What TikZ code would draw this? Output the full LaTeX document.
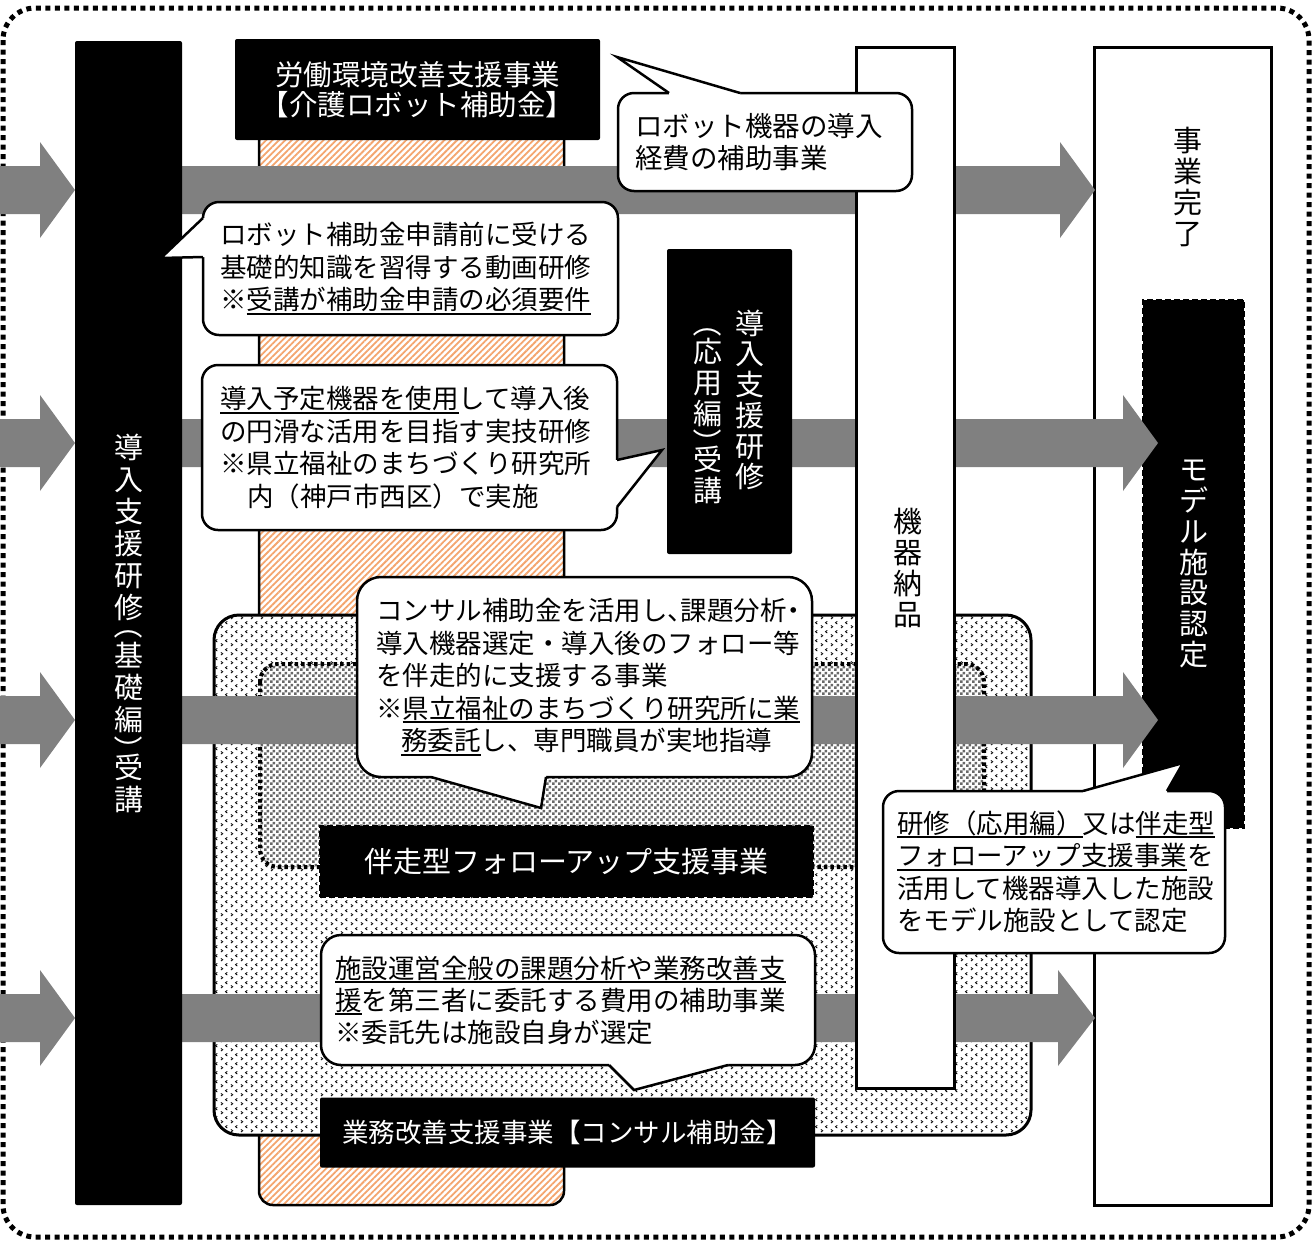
\documentclass[tikz,border=0pt]{standalone}
\usepackage{fontspec}
\usepackage{graphicx}
\setmainfont{Noto Sans CJK JP}
\usetikzlibrary{patterns,patterns.meta}
\definecolor{arrowgray}{RGB}{128,128,128}
\definecolor{hatchorange}{RGB}{244,165,110}
\definecolor{chkgray}{RGB}{105,105,105}
\newsavebox\ulxbox
\newcommand\ulx[1]{\leavevmode\sbox\ulxbox{#1}\rlap{\rule[-5pt]{\wd\ulxbox}{2pt}}\usebox\ulxbox}
\newcommand\hw[1]{{\addfontfeature{RawFeature=+halt}#1}}
\newcommand\vpo{\rotatebox[origin=c]{-90}{（}}
\newcommand\vpc{\rotatebox[origin=c]{-90}{）}}
\newcommand\bigarrow[4]{\fill[arrowgray] (#1,#4-24) -- (#2,#4-24) -- (#2,#4-48) -- (#3,#4) -- (#2,#4+48) -- (#2,#4+24) -- (#1,#4+24) -- cycle;}
\tikzdeclarepattern{
  name=chevdots,
  type=uncolored,
  bounding box={(0pt,0pt) and (10pt,9pt)},
  tile size={(10pt,9pt)},
  code={
    \draw[line width=0.85pt] (1pt,1pt) -- (3pt,2.5pt) -- (1pt,4pt);
    \draw[line width=0.85pt] (8pt,5.5pt) -- (6pt,7pt) -- (8pt,8.5pt);
  }
}
\tikzdeclarepattern{
  name=graychk,
  type=uncolored,
  bounding box={(0pt,0pt) and (6pt,6pt)},
  tile size={(6pt,6pt)},
  code={
    \fill (0pt,0pt) rectangle (3pt,3pt);
    \fill (3pt,3pt) rectangle (6pt,6pt);
  }
}
\tikzset{
  outerframe/.style={line width=5pt, dash pattern=on 5pt off 4.5pt, rounded corners=32pt},
  blk/.style={fill=black, text=white, inner sep=0pt, rounded corners=2pt},
  wbar/.style={draw=black, line width=3pt, fill=white, inner sep=0pt},
  vtxt/.style={align=center, font=\fontsize{29}{30.75}\selectfont, inner sep=0pt},
  cbox/.style={draw=black, line width=2.5pt, fill=white, rounded corners=16pt, inner ysep=0pt, align=left, font=\fontsize{26.5}{32.5}\selectfont},
  tailline/.style={line width=2.5pt, line join=miter},
}
\begin{document}
\begin{tikzpicture}[x=1pt,y=-1pt]
\useasboundingbox (0,0) rectangle (1313,1240);
% outer frame
\draw[outerframe] (3,8) rectangle (1309,1237);
% completion column
\node[wbar, minimum width=177, minimum height=1158] (done) at (1182.5,626) {};
\node[vtxt] (donetxt) at (1188,187) {事\\業\\完\\了};
% model facility box
\node[blk, rounded corners=0pt, draw=black, line width=2pt, dash pattern=on 6pt off 3pt, minimum width=101, minimum height=528, align=center, font=\fontsize{29}{30.75}\selectfont] (model) at (1193.5,564) {モ\\デ\\ル\\施\\設\\認\\定};
% orange hatched column
\fill[white, rounded corners=14pt] (259,100) rectangle (564,1205);
\fill[rounded corners=14pt, pattern={Lines[angle=45,distance=4.5pt,line width=1.8pt]}, pattern color=hatchorange] (259,100) rectangle (564,1205);
\draw[line width=2.5pt, rounded corners=14pt] (259,100) rectangle (564,1205);
% consultant pattern box
\fill[white, rounded corners=25pt] (214,615) rectangle (1031,1135);
\fill[pattern=chevdots, pattern color=black, rounded corners=25pt] (214,615) rectangle (1031,1135);
\draw[line width=3pt, rounded corners=25pt] (214,615) rectangle (1031,1135);
% follow-up inner box
\fill[white, rounded corners=18pt] (260,664) rectangle (984,867);
\fill[pattern=graychk, pattern color=chkgray, rounded corners=18pt] (260,664) rectangle (984,867);
\draw[line width=4pt, dash pattern=on 3.5pt off 3pt, rounded corners=18pt] (260,664) rectangle (984,867);
% gray block arrows
\bigarrow{0}{40}{75}{190}
\bigarrow{181}{1060}{1095}{190}
\bigarrow{0}{40}{75}{443}
\bigarrow{181}{1123}{1158}{443}
\bigarrow{0}{40}{75}{720}
\bigarrow{181}{1123}{1158}{720}
\bigarrow{0}{40}{75}{1018}
\bigarrow{181}{1058}{1095}{1018}
% left black bar
\node[blk, minimum width=107, minimum height=1164, align=center, font=\fontsize{29}{32}\selectfont] (lbar) at (128.5,623) {導\\入\\支\\援\\研\\修\\[-14.4pt]\vpo\\[-1.6pt]基\\礎\\編\\[-1.3pt]\vpc\\[-14.7pt]受\\講};
% delivery column
\node[wbar, minimum width=98, minimum height=1041] (kiki) at (905,567.5) {};
\node[vtxt] (kikitxt) at (908,568) {機\\器\\納\\品};
% black title boxes
\node[blk, minimum width=365, minimum height=101, align=center, font=\fontsize{28.5}{30}\selectfont] (title) at (417.5,89.5) {労働環境改善支援事業\\【介護ロボット補助金】};
\node[blk, minimum width=125, minimum height=305] (oyo) at (729.5,401.5) {};
\node[vtxt, text=white] (oyoR) at (750,400) {導\\入\\支\\援\\研\\修};
\node[vtxt, text=white] (oyoL) at (708,406) {\vpo\\[-2pt]応\\用\\編\\[-1.5pt]\vpc\\[-14pt]受\\講};
\node[blk, rounded corners=0pt, draw=black, line width=2pt, dash pattern=on 6pt off 3pt, minimum width=493, minimum height=71, font=\fontsize{29}{30}\selectfont] (banso) at (566.5,861.5) {伴走型フォローアップ支援事業};
\node[blk, minimum width=495, minimum height=70, font=\fontsize{26.5}{30}\selectfont] (gyomu) at (567.5,1132.5) {業務改善支援事業【コンサル補助金】};
% callouts
\node[cbox, minimum width=294, minimum height=98, text width=260, inner xsep=17pt, font=\fontsize{27.5}{32}\selectfont] (c0) at (765,142) {ロボット機器の導入\\経費の補助事業};
\fill[white] (669,97) -- (669,93) -- (617,57) -- (740,93) -- (740,97) -- cycle;
\draw[tailline] (669,93) -- (617,57) -- (740,93);
\node[cbox, minimum width=415, minimum height=133, text width=381, inner xsep=17pt] (c1) at (410.5,268.5) {ロボット補助金申請前に受ける\\基礎的知識を習得する動画研修\\※\ulx{受講が補助金申請の必須要件}};
\fill[white] (207,218) -- (203,218) -- (161,258) -- (203,257) -- (207,257) -- cycle;
\draw[tailline] (203,218) -- (161,258) -- (203,257);
\node[cbox, minimum width=415, minimum height=165, text width=379, inner xsep=18pt] (c2) at (409.5,447.5) {\ulx{導入予定機器を使用}して導入後\\の円滑な活用を目指す実技研修\\※県立福祉のまちづくり研究所\\\hspace*{27pt}内（神戸市西区）で実施};
\fill[white] (613,460) -- (617,460) -- (662,450) -- (617,507) -- (613,507) -- cycle;
\draw[tailline] (617,460) -- (662,450) -- (617,507);
\node[cbox, rounded corners=24pt, minimum width=455, minimum height=200, text width=417, inner xsep=19pt] (c3) at (584.5,677) {コンサル補助金を活用し\hw{、}課題分析\hw{・}\\導入機器選定・導入後のフォロー等\\を伴走的に支援する事業\\※\ulx{県立福祉のまちづくり研究所に業}\\\hspace*{25pt}\ulx{務委託}し、専門職員が実地指導};
\fill[white] (431,773) -- (431,777) -- (541,808) -- (546,777) -- (546,773) -- cycle;
\draw[tailline] (431,777) -- (541,808) -- (546,777);
\node[cbox, rounded corners=20pt, minimum width=494, minimum height=130, text width=466, inner xsep=14pt, font=\fontsize{26.5}{32}\selectfont] (c4) at (568,1000) {\ulx{施設運営全般の課題分析や業務改善支}\\\ulx{援}を第三者に委託する費用の補助事業\\※委託先は施設自身が選定};
\fill[white] (609,1061) -- (609,1065) -- (634,1090) -- (728,1065) -- (728,1061) -- cycle;
\draw[tailline] (609,1065) -- (634,1090) -- (728,1065);
\node[cbox, minimum width=342, minimum height=162, text width=314, inner xsep=14pt] (c5) at (1054,872) {\ulx{研修（応用編）}又は\ulx{伴走型}\\\ulx{フォローアップ支援事業}を\\活用して機器導入した施設\\をモデル施設として認定};
\fill[white] (1083,795) -- (1083,791) -- (1183,763) -- (1167,791) -- (1167,795) -- cycle;
\draw[tailline] (1083,791) -- (1183,763) -- (1167,791);
\end{tikzpicture}
\end{document}
